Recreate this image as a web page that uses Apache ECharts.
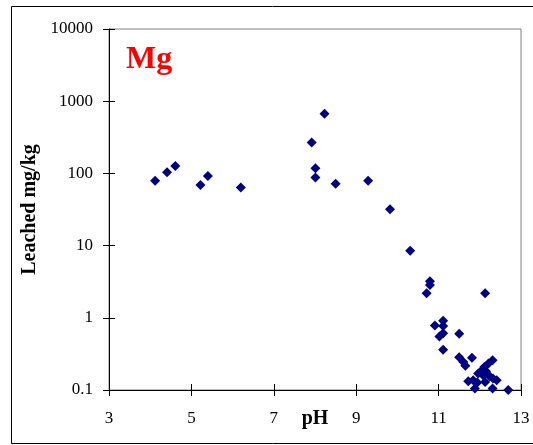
<!DOCTYPE html>
<html>
<head>
<meta charset="utf-8">
<style>
  html, body { margin: 0; padding: 0; background: #fff; }
  #chart { width: 533px; height: 445px; }
</style>
<script src="https://cdn.jsdelivr.net/npm/echarts@6/dist/echarts.min.js"></script>
</head>
<body>
<div id="chart"></div>
<script>
// Leached magnesium (mg/kg) against pH
const phValues = [
  4.12, 4.41, 4.61, 5.22, 5.40, 6.20,
  7.92, 8.23, 8.01, 8.01, 8.50, 9.29, 9.82,
  10.31, 10.79, 10.79, 10.71, 12.13,
  10.91, 11.11, 11.11, 11.02, 11.11, 11.50, 11.11,
  11.50, 11.60, 11.65, 11.81, 12.31, 12.21, 12.11, 12.05, 12.15,
  11.96, 12.08, 12.24, 12.32, 12.41, 11.72, 11.84, 11.94, 12.13,
  11.88, 12.31, 12.69
];
const mgValues = [
  79, 104, 127, 69, 92, 64,
  267, 668, 118, 88, 72, 79, 32,
  8.5, 3.2, 2.84, 2.18, 2.18,
  0.78, 0.91, 0.77, 0.55, 0.61, 0.6, 0.36,
  0.285, 0.245, 0.217, 0.279, 0.259, 0.233, 0.209, 0.188, 0.182,
  0.169, 0.16, 0.155, 0.144, 0.137, 0.132, 0.137, 0.127, 0.129,
  0.105, 0.105, 0.1
];
const xTicks = { min: 3, max: 13, step: 2 };
const yTicks = { min: 0.1, max: 10000 };

const points = phValues.map((p, i) => [p, mgValues[i]]);
const serif = '"Liberation Serif", "Times New Roman", serif';

const chart = echarts.init(document.getElementById('chart'), null, { renderer: 'canvas' });
chart.setOption({
  animation: false,
  backgroundColor: '#ffffff',
  grid: {
    left: 109, top: 29, width: 412, height: 361,
    outerBoundsMode: 'none', containLabel: false,
    show: true, borderColor: '#808080', borderWidth: 1, backgroundColor: 'transparent'
  },
  graphic: [
    {
      type: 'rect', left: 9, top: 4,
      shape: { width: 522, height: 437 },
      style: { fill: 'none', stroke: '#000', lineWidth: 1 }
    },
    {
      type: 'text', left: 126, top: 44,
      style: { text: 'Mg', font: 'bold 32px ' + serif, fill: '#ff0000' }
    }
  ],
  xAxis: [
    {
      type: 'value', min: xTicks.min, max: xTicks.max, interval: xTicks.step,
      name: 'pH', nameLocation: 'middle', nameGap: 19, nameMoveOverlap: false,
      nameTextStyle: { fontFamily: serif, fontWeight: 'bold', fontSize: 20, color: '#000' },
      axisLine: { lineStyle: { color: '#000', width: 1 } },
      axisTick: { show: true, length: 6, lineStyle: { color: '#000' } },
      axisLabel: { fontFamily: serif, fontSize: 17, color: '#000', margin: 20 },
      splitLine: { show: false }
    },
    {
      type: 'value', min: xTicks.min, max: xTicks.max, interval: xTicks.step,
      position: 'bottom', gridIndex: 0,
      axisLine: { show: false },
      axisTick: { show: true, inside: true, length: 6, lineStyle: { color: '#000' } },
      axisLabel: { show: false },
      splitLine: { show: false }
    }
  ],
  yAxis: [
    {
      type: 'log', logBase: 10, min: yTicks.min, max: yTicks.max,
      name: 'Leached mg/kg', nameLocation: 'middle', nameGap: 69, nameRotate: 90,
      nameMoveOverlap: false,
      nameTextStyle: { fontFamily: serif, fontWeight: 'bold', fontSize: 20, color: '#000' },
      axisLine: { show: true, lineStyle: { color: '#000', width: 1 } },
      axisTick: { show: true, length: 6, lineStyle: { color: '#000' } },
      axisLabel: {
        fontFamily: serif, fontSize: 17, color: '#000', margin: 16,
        formatter: v => String(Math.round(v * 10) / 10)
      },
      splitLine: { show: false },
      minorTick: { show: false }
    },
    {
      type: 'log', logBase: 10, min: yTicks.min, max: yTicks.max,
      position: 'left',
      axisLine: { show: false },
      axisTick: { show: true, inside: true, length: 6, lineStyle: { color: '#000' } },
      axisLabel: { show: false },
      splitLine: { show: false }
    }
  ],
  series: [
    {
      type: 'scatter',
      xAxisIndex: 0, yAxisIndex: 0,
      data: points,
      symbol: 'diamond',
      symbolSize: 10,
      itemStyle: { color: '#000080', opacity: 1 }
    }
  ]
});
</script>
</body>
</html>
